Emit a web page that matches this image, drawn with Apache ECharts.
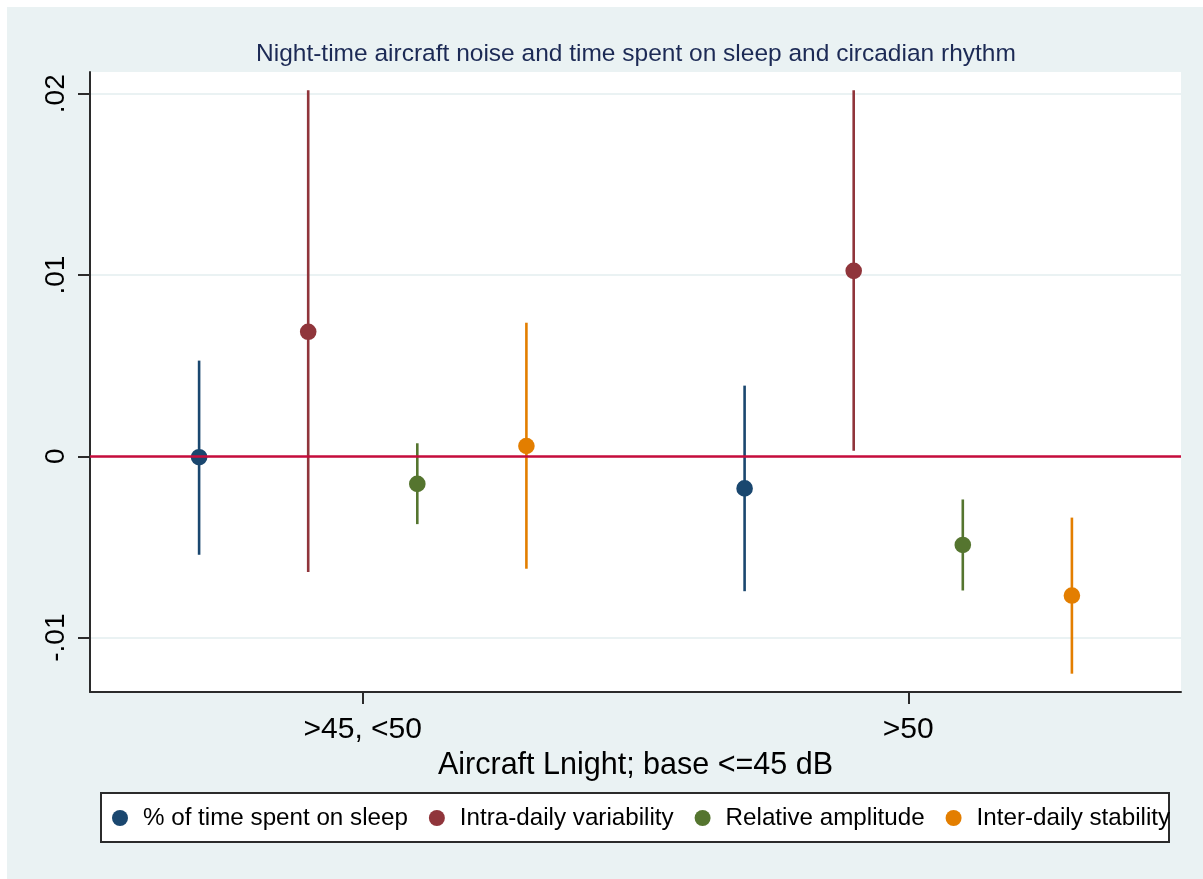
<!DOCTYPE html>
<html>
<head>
<meta charset="utf-8">
<script src="https://cdn.jsdelivr.net/npm/echarts@6/dist/echarts.min.js"></script>
<style>
html,body{margin:0;padding:0;background:#fff;}
#chart{width:1203px;height:879px;}
</style>
</head>
<body>
<div id="chart"></div>
<script>
// ---- data ----
const categories = ['>45, <50', '>50'];
const seriesNames = ['% of time spent on sleep', 'Intra-daily variability', 'Relative amplitude', 'Inter-daily stability'];
const sleepEst = [-0.00005, -0.00177];
const sleepLo  = [-0.00543, -0.00744];
const sleepHi  = [ 0.00528,  0.00390];
const idvEst = [ 0.00687,  0.01023];
const idvLo  = [-0.00638,  0.00031];
const idvHi  = [ 0.02020,  0.02020];
const raEst = [-0.00152, -0.00489];
const raLo  = [-0.00374, -0.00740];
const raHi  = [ 0.00072, -0.00238];
const isEst = [ 0.00057, -0.00768];
const isLo  = [-0.00620, -0.01199];
const isHi  = [ 0.00737, -0.00338];
const yTicks = [-0.01, 0, 0.01, 0.02];
const yTickLabels = ['-.01', '0', '.01', '.02'];

// ---- style ----
const colors = ['#1a476f', '#90353b', '#55752f', '#e37e00'];
const offsets = [-0.3, -0.1, 0.1, 0.3];
const FONT = '"Liberation Sans", Arial, sans-serif';

const groups = [
  [sleepEst, sleepLo, sleepHi],
  [idvEst, idvLo, idvHi],
  [raEst, raLo, raHi],
  [isEst, isLo, isHi]
];

function buildData(g) {
  return categories.map((c, i) => [i, g[0][i], g[1][i], g[2][i]]);
}

function makeRender(k) {
  return function (params, api) {
    const ci = api.value(0);
    const band = api.size([1, 0])[0];
    const cx = api.coord([ci, 0])[0] + offsets[k] * band;
    const yE = api.coord([ci, api.value(1)])[1];
    const yL = api.coord([ci, api.value(2)])[1];
    const yH = api.coord([ci, api.value(3)])[1];
    return {
      type: 'group',
      children: [
        { type: 'line', shape: { x1: cx, y1: yL, x2: cx, y2: yH },
          style: { stroke: colors[k], lineWidth: 2.6 } },
        { type: 'circle', shape: { cx: cx, cy: yE, r: 8.3 },
          style: { fill: colors[k] } }
      ]
    };
  };
}

const series = groups.map((g, k) => ({
  name: seriesNames[k],
  type: 'custom',
  z: 4,
  itemStyle: { color: colors[k] },
  renderItem: makeRender(k),
  encode: { x: 0, y: [1, 2, 3] },
  data: buildData(g)
}));

series.push({
  name: 'zero',
  type: 'line',
  z: 3,
  data: [],
  markLine: {
    silent: true,
    symbol: 'none',
    label: { show: false },
    lineStyle: { color: '#c60c3c', width: 2.5, type: 'solid' },
    data: [{ yAxis: 0 }]
  }
});

const chart = echarts.init(document.getElementById('chart'), null, { renderer: 'canvas' });
chart.setOption({
  backgroundColor: '#ffffff',
  animation: false,
  textStyle: { fontFamily: FONT },
  graphic: [
    { type: 'rect', z: -10, shape: { x: 7, y: 7, width: 1196, height: 872 },
      style: { fill: '#eaf2f3' } },
    { type: 'rect', z: 0, shape: { x: 101, y: 793, width: 1068, height: 49 },
      style: { fill: '#ffffff', stroke: '#2b2b2b', lineWidth: 2 } }
  ],
  title: {
    text: 'Night-time aircraft noise and time spent on sleep and circadian rhythm',
    left: 256,
    top: 41.5,
    padding: 0,
    textStyle: { fontFamily: FONT, fontSize: 24.5, fontWeight: 'normal', color: '#1c2a55' }
  },
  legend: {
    data: seriesNames,
    left: 112,
    top: 806,
    padding: 0,
    icon: 'circle',
    itemWidth: 16,
    itemHeight: 16,
    itemGap: 21,
    z: 5,
    textStyle: { fontFamily: FONT, fontSize: 24.2, color: '#000', padding: [0, 0, 0, 10] }
  },
  grid: {
    left: 90, right: 22, top: 72, bottom: 187,
    show: true, backgroundColor: '#ffffff', borderWidth: 0
  },
  xAxis: {
    type: 'category',
    data: categories,
    boundaryGap: true,
    axisLine: { show: true, onZero: false, lineStyle: { color: '#2b2b2b', width: 2 } },
    axisTick: { show: true, interval: 0, alignWithLabel: true, inside: false, length: 12, lineStyle: { color: '#2b2b2b', width: 2 } },
    axisLabel: { fontFamily: FONT, fontSize: 30, color: '#000', margin: 23 },
    splitLine: { show: false },
    name: 'Aircraft Lnight; base <=45 dB',
    nameLocation: 'middle',
    nameGap: 50,
    nameTextStyle: { fontFamily: FONT, fontSize: 30.5, color: '#000' }
  },
  yAxis: {
    type: 'value',
    min: -0.0130,
    max: 0.0212,
    splitNumber: 3,
    axisLine: { show: true, lineStyle: { color: '#2b2b2b', width: 2 } },
    axisTick: { show: true, length: 12, customValues: yTicks, lineStyle: { color: '#2b2b2b', width: 2 } },
    axisLabel: {
      fontFamily: FONT, fontSize: 28, color: '#000', rotate: 90, margin: 20,
      customValues: yTicks,
      formatter: function (v) {
        const i = yTicks.findIndex(t => Math.abs(t - v) < 1e-9);
        return i >= 0 ? yTickLabels[i] : '';
      }
    },
    splitLine: { show: true, lineStyle: { color: '#eaf2f3', width: 2 } }
  },
  series: series
});
</script>
</body>
</html>
